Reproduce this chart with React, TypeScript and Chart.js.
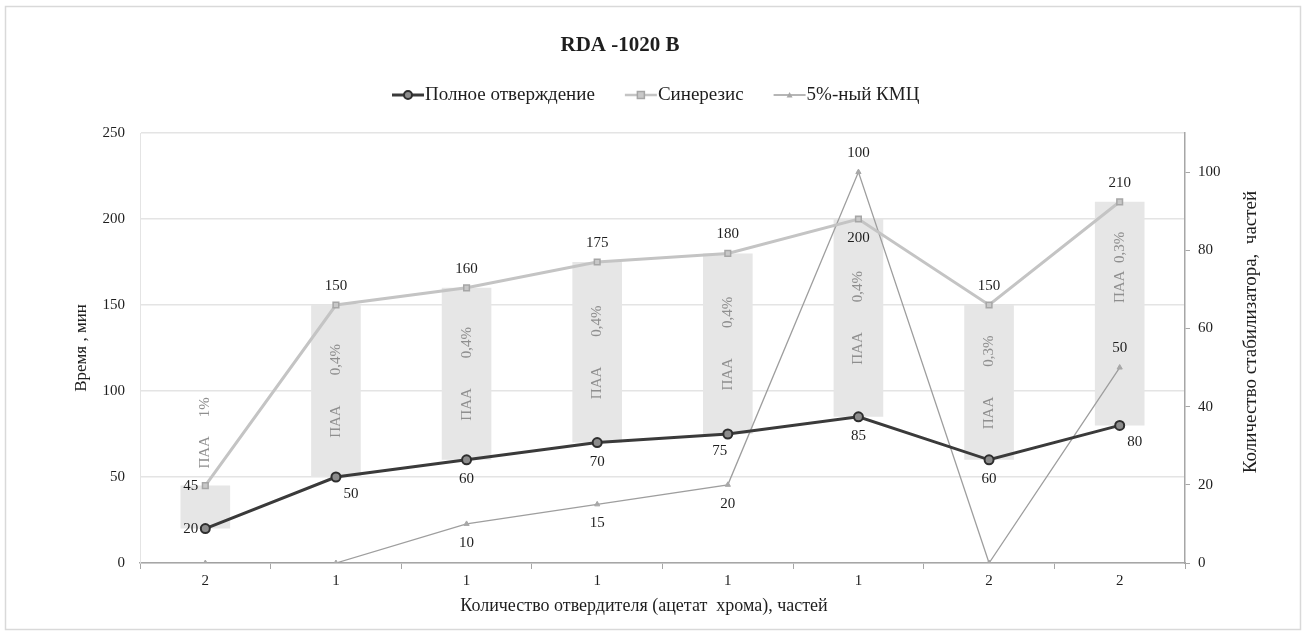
import { useEffect, useRef } from "react";
import { Chart, registerables } from "chart.js";

Chart.register(...registerables);

// ---- data ----
const categories = ["2", "1", "1", "1", "1", "1", "2", "2"];
const fullCure = [20, 50, 60, 70, 75, 85, 60, 80];
const syneresis = [45, 150, 160, 175, 180, 200, 150, 210];
const cmc = [0, 0, 10, 15, 20, 100, 0, 50];
const paaText = ["ПАА 1%", "ПАА 0,4%", "ПАА 0,4%", "ПАА 0,4%", "ПАА 0,4%", "ПАА 0,4%", "ПАА 0,3%", "ПАА 0,3%"];
const timeTicks = [0, 50, 100, 150, 200, 250];
const stabTicks = [0, 20, 40, 60, 80, 100];

const seriesNames = ["Полное отверждение", "Синерезис", "5%-ный КМЦ"];
const chartTitle = "RDA -1020 B";
const xTitle = "Количество отвердителя (ацетат  хрома), частей";
const yTitle = "Время , мин";
const y2Title = "Количество стабилизатора,  частей";

// ---- styling ----
const SERIF = "'Liberation Serif', 'Times New Roman', serif";
const CURE_COLOR = "#3a3a3a";
const SYN_COLOR = "#c4c4c4";
const CMC_COLOR = "#9e9e9e";
const BAR_COLOR = "#e6e6e6";

// where each value label sits relative to its point
const cureLabelPos = ["left", "belowRight", "below", "below", "belowLeft", "below", "below", "belowRight"];
const synLabelPos = ["left", "above", "above", "above", "above", "below", "above", "above"];
const cmcLabelPos = ["below", "below", "below", "below", "below", "above", "below", "above"];
// caption placement within each grey bar and the gap between its two words
const paaPlace = ["above", "center", "center", "center", "center", "center", "center", "top"];
const paaGap = [5, 8, 8, 8, 8, 8, 8, 2];

function drawValueLabel(ctx: CanvasRenderingContext2D, x: number, y: number, text: string, pos: string) {
  ctx.save();
  ctx.fillStyle = "#1e1e1e";
  ctx.font = `15px ${SERIF}`;
  ctx.textBaseline = "middle";
  ctx.textAlign = "center";
  let tx = x;
  let ty = y;
  if (pos === "left") {
    ctx.textAlign = "right";
    tx = x - 7;
  } else if (pos === "above") {
    ty = y - 19;
  } else if (pos === "below") {
    ty = y + 19;
  } else if (pos === "belowRight") {
    tx = x + 15;
    ty = y + 17;
  } else if (pos === "belowLeft") {
    tx = x - 8;
    ty = y + 17;
  }
  ctx.fillText(text, tx, ty);
  ctx.restore();
}

function drawMarker(ctx: CanvasRenderingContext2D, kind: string, x: number, y: number) {
  ctx.save();
  if (kind === "circle") {
    ctx.beginPath();
    ctx.arc(x, y, 4, 0, Math.PI * 2);
    ctx.fillStyle = "#8c8c8c";
    ctx.fill();
    ctx.lineWidth = 2;
    ctx.strokeStyle = "#2e2e2e";
    ctx.stroke();
  } else if (kind === "rect") {
    ctx.fillStyle = "#c8c8c8";
    ctx.strokeStyle = "#a6a6a6";
    ctx.lineWidth = 1.5;
    ctx.fillRect(x - 3.5, y - 3.5, 7, 7);
    ctx.strokeRect(x - 3.5, y - 3.5, 7, 7);
  } else {
    ctx.beginPath();
    ctx.moveTo(x, y - 3);
    ctx.lineTo(x + 3, y + 2.5);
    ctx.lineTo(x - 3, y + 2.5);
    ctx.closePath();
    ctx.fillStyle = "#a8a8a8";
    ctx.fill();
  }
  ctx.restore();
}

const decorations = {
  id: "decorations",
  beforeDraw(chart: any) {
    const { ctx, width, height } = chart;
    ctx.save();
    ctx.fillStyle = "#ffffff";
    ctx.fillRect(0, 0, width, height);
    ctx.strokeStyle = "#d9d9d9";
    ctx.lineWidth = 1.5;
    ctx.strokeRect(5.5, 6.5, width - 11, height - 12);
    ctx.restore();
  },
  afterDatasetsDraw(chart: any) {
    const { ctx, chartArea } = chart;

    // captions inside the grey bars
    const barMeta = chart.getDatasetMeta(3);
    barMeta.data.forEach((bar: any, i: number) => {
      const [w1, w2] = paaText[i].split(" ");
      const text = w1 + "\u00A0".repeat(paaGap[i]) + w2;
      ctx.save();
      ctx.font = `15px ${SERIF}`;
      ctx.fillStyle = "#8f8f8f";
      const tw = ctx.measureText(text).width;
      const top = Math.min(bar.y, bar.base);
      const bottom = Math.max(bar.y, bar.base);
      let cy = (top + bottom) / 2;
      if (paaPlace[i] === "above") cy = top - 17 - tw / 2;
      else if (paaPlace[i] === "top") cy = top + 30 + tw / 2;
      ctx.translate(bar.x, cy);
      ctx.rotate(-Math.PI / 2);
      ctx.textAlign = "center";
      ctx.textBaseline = "middle";
      ctx.fillText(text, 0, 0);
      ctx.restore();
    });

    // value labels
    const series = [
      { idx: 0, values: fullCure, pos: cureLabelPos },
      { idx: 1, values: syneresis, pos: synLabelPos },
      { idx: 2, values: cmc, pos: cmcLabelPos },
    ];
    series.forEach((s) => {
      const meta = chart.getDatasetMeta(s.idx);
      meta.data.forEach((pt: any, i: number) => {
        if (s.values[i] === 0) return;
        drawValueLabel(ctx, pt.x, pt.y, String(s.values[i]), s.pos[i]);
      });
    });

    // chart title
    ctx.save();
    ctx.fillStyle = "#1e1e1e";
    ctx.font = `bold 21px ${SERIF}`;
    ctx.textAlign = "center";
    ctx.textBaseline = "middle";
    ctx.fillText(chartTitle, 620, 46);

    // legend
    ctx.font = `19px ${SERIF}`;
    const kinds = ["circle", "rect", "triangle"];
    const colors = [CURE_COLOR, SYN_COLOR, CMC_COLOR];
    const widths = [3, 2.5, 1.3];
    let lx = 392;
    const ly = 95;
    seriesNames.forEach((name, i) => {
      ctx.strokeStyle = colors[i];
      ctx.lineWidth = widths[i];
      ctx.beginPath();
      ctx.moveTo(lx, ly);
      ctx.lineTo(lx + 32, ly);
      ctx.stroke();
      drawMarker(ctx, kinds[i], lx + 16, ly);
      ctx.fillStyle = "#1e1e1e";
      ctx.textAlign = "left";
      ctx.fillText(name, lx + 33, ly);
      lx += 33 + ctx.measureText(name).width + 30;
    });

    // axis titles
    ctx.textAlign = "center";
    ctx.font = `18px ${SERIF}`;
    ctx.fillText(xTitle, 644, 606);
    ctx.save();
    ctx.font = `17px ${SERIF}`;
    ctx.translate(82, (chartArea.top + chartArea.bottom) / 2);
    ctx.rotate(-Math.PI / 2);
    ctx.fillText(yTitle, 0, 0);
    ctx.restore();
    ctx.save();
    ctx.font = `19px ${SERIF}`;
    ctx.translate(1251, 332);
    ctx.rotate(-Math.PI / 2);
    ctx.fillText(y2Title, 0, 0);
    ctx.restore();
    ctx.restore();
  },
};

export default function App() {
  const canvasRef = useRef<HTMLCanvasElement | null>(null);

  useEffect(() => {
    document.body.style.margin = "0";
    document.body.style.overflow = "hidden";
    const canvas = canvasRef.current;
    if (!canvas) return;

    const tickFont = { family: SERIF, size: 15 };
    const chart = new Chart(canvas, {
      type: "bar",
      data: {
        labels: categories,
        datasets: [
          {
            type: "line",
            label: seriesNames[0],
            data: fullCure,
            yAxisID: "y",
            borderColor: CURE_COLOR,
            borderWidth: 3,
            pointStyle: "circle",
            pointRadius: 4.5,
            pointBackgroundColor: "#8c8c8c",
            pointBorderColor: "#2e2e2e",
            pointBorderWidth: 2,
            tension: 0,
            order: 1,
          },
          {
            type: "line",
            label: seriesNames[1],
            data: syneresis,
            yAxisID: "y",
            borderColor: SYN_COLOR,
            borderWidth: 3,
            pointStyle: "rect",
            pointRadius: 4,
            pointBackgroundColor: "#c8c8c8",
            pointBorderColor: "#a6a6a6",
            pointBorderWidth: 1.5,
            tension: 0,
            order: 2,
          },
          {
            type: "line",
            label: seriesNames[2],
            data: cmc,
            yAxisID: "y2",
            borderColor: CMC_COLOR,
            borderWidth: 1.3,
            pointStyle: "triangle",
            pointRadius: 3,
            pointBackgroundColor: "#a8a8a8",
            pointBorderColor: "#a8a8a8",
            pointBorderWidth: 1,
            tension: 0,
            order: 3,
          },
          {
            type: "bar",
            label: "ПАА",
            data: fullCure.map((v, i) => [v, syneresis[i]]),
            yAxisID: "y",
            backgroundColor: BAR_COLOR,
            borderWidth: 0,
            barPercentage: 0.38,
            categoryPercentage: 1,
            order: 10,
          },
        ],
      } as any,
      options: {
        responsive: false,
        animation: false,
        layout: { padding: { top: 133, left: 10, right: 10, bottom: 10 } },
        plugins: {
          legend: { display: false },
          title: { display: false },
          tooltip: { enabled: false },
        },
        scales: {
          x: {
            offset: true,
            grid: {
              display: true,
              drawOnChartArea: false,
              drawTicks: true,
              tickLength: 6,
              offset: true,
              color: "#a6a6a6",
            },
            border: { display: true, color: "#a6a6a6", width: 1.5 },
            ticks: { font: tickFont, color: "#1e1e1e", padding: 3 },
            afterFit: (s: any) => {
              s.height = 62;
            },
          },
          y: {
            position: "left",
            min: timeTicks[0],
            max: timeTicks[timeTicks.length - 1],
            ticks: { stepSize: 50, font: tickFont, color: "#1e1e1e", padding: 15 },
            grid: { color: "#e4e4e4", lineWidth: 1.5, drawTicks: false },
            border: { display: true, color: "#e4e4e4" },
            afterBuildTicks: (s: any) => {
              s.ticks = timeTicks.map((v) => ({ value: v }));
            },
            afterFit: (s: any) => {
              s.width = 130;
            },
          },
          y2: {
            position: "right",
            min: 0,
            max: 110,
            ticks: { stepSize: 20, font: tickFont, color: "#1e1e1e", padding: 8 },
            grid: { drawOnChartArea: false, drawTicks: true, tickLength: 5, color: "#a6a6a6" },
            border: { display: true, color: "#a6a6a6", width: 1.5 },
            afterBuildTicks: (s: any) => {
              s.ticks = stabTicks.map((v) => ({ value: v }));
            },
            afterFit: (s: any) => {
              s.width = 111;
            },
          },
        },
      } as any,
      plugins: [decorations],
    });

    return () => chart.destroy();
  }, []);

  return (
    <div style={{ width: 1306, height: 635 }}>
      <canvas ref={canvasRef} width={1306} height={635} />
    </div>
  );
}
